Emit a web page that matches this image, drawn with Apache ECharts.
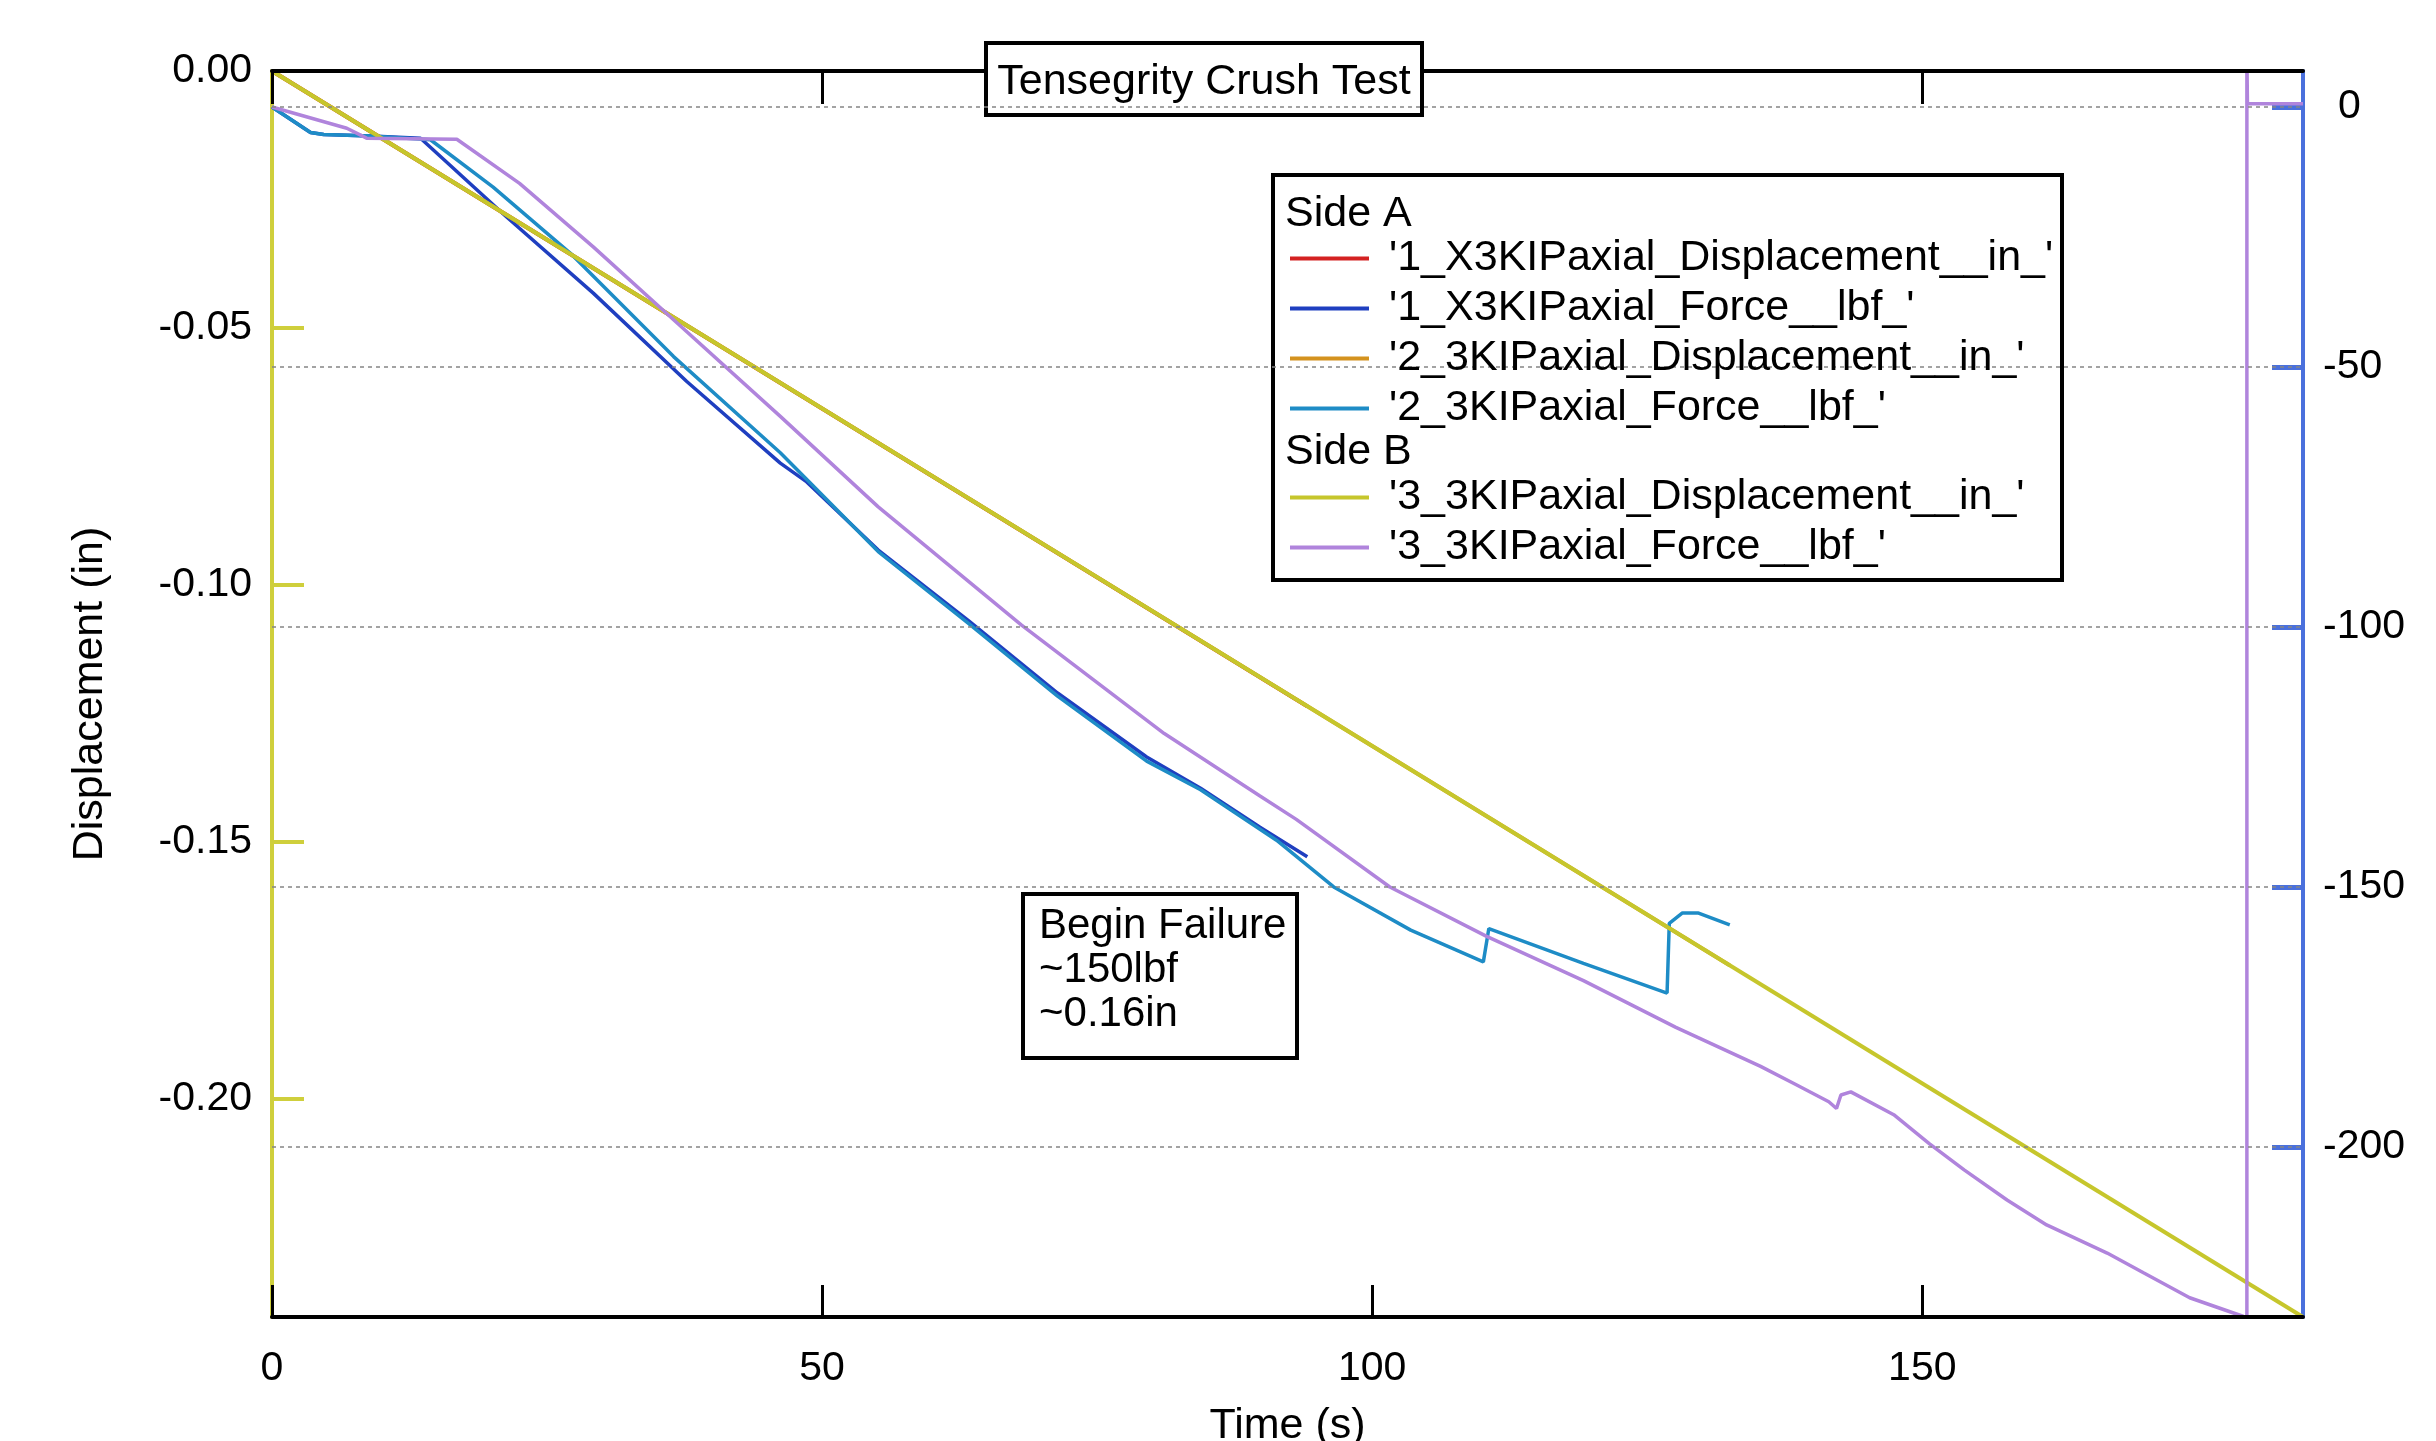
<!DOCTYPE html>
<html>
<head>
<meta charset="utf-8">
<script src="https://cdn.jsdelivr.net/npm/echarts@6/dist/echarts.min.js"></script>
<style>html,body{margin:0;padding:0;background:#fff}#c{width:2436px;height:1441px}</style>
</head>
<body>
<div id="c"></div>
<script>
// ---- data ----
const seriesNames = [
  "'1_X3KIPaxial_Displacement__in_'",
  "'1_X3KIPaxial_Force__lbf_'",
  "'2_3KIPaxial_Displacement__in_'",
  "'2_3KIPaxial_Force__lbf_'",
  "'3_3KIPaxial_Displacement__in_'",
  "'3_3KIPaxial_Force__lbf_'"
];
const timeTicks = [0, 50, 100, 150];
const dispTicks = [0, -0.05, -0.10, -0.15, -0.20];
const forceTicks = [0, -50, -100, -150, -200];

// [time s, displacement in] — side A traces lie beneath side B's trace
const disp1 = [[0, 0], [94.1, -0.1236]];
const disp2 = [[0, 0], [132.5, -0.174]];
const disp3 = [[0, 0], [184.6, -0.2424]];

// [time s, force lbf]
const force1 = [[0,0],[3.5,-4.9],[4.7,-5.3],[9,-5.6],[13.5,-6.0],[21.3,-21.1],[29.2,-35.8],[37.7,-52.8],
  [46.2,-68.5],[48.6,-72.1],[55.1,-85.2],[63.3,-98.8],[71.4,-112.7],[79.5,-125],[84.4,-131],[89.8,-138.5],[94.1,-144.2]];
const force2 = [[0,0],[3.5,-4.9],[4.7,-5.3],[9,-5.6],[14.4,-6.3],[20.1,-15.4],[27.1,-28.1],[36.5,-48],[46.2,-66.5],
  [55.1,-85.5],[63.3,-99.3],[71.4,-113.3],[79.5,-125.8],[84.4,-131.3],[91.3,-141],[96.5,-150],[103.5,-158.3],
  [110.1,-164.4],[110.6,-158],[119.2,-164.7],[126.8,-170.4],[127,-157],[128.2,-155],[129.6,-155],[132.5,-157.3]];
const force3 = [[0,0],[6.8,-4.1],[8.6,-6.0],[16.8,-6.2],[22.5,-14.7],[29.2,-26.9],[36.8,-41.5],[46.2,-59.5],
  [55.1,-76.9],[68.1,-99.6],[81.1,-120.5],[89.8,-132.5],[93.1,-137],[101.6,-150],[110.4,-159.5],[119.2,-168],
  [127.6,-177],[135.3,-184.5],[138.5,-188],[141.5,-191.3],[142.2,-192.6],[142.6,-190],[143.5,-189.4],[147.4,-193.8],
  [150.6,-199.3],[153.8,-204.4],[157.7,-210.2],[161.3,-215],[166.8,-220.4],[170.1,-224.2],[174.3,-229],
  [179.2,-232.6],[179.5,-232.7],[179.5,10],[179.55,0.6],[184.6,0.6]];

const titleText = 'Tensegrity Crush Test';
const noteLines = ['Begin Failure', '~150lbf', '~0.16in'];

// ---- styling ----
const FF = "'Liberation Sans', Arial, sans-serif";
const FS = 41;      // tick labels
const FSB = 43;     // title, legend, axis titles
const colors = ['#d42222', '#1f3fc0', '#d4921e', '#1e8cc6', '#c6c62c', '#b084dc'];
const axisYellow = '#cfcf3c';
const axisBlue = '#4a70dc';

const chart = echarts.init(document.getElementById('c'), null, {renderer: 'canvas'});

function lineSeries(i, data, yIdx, width, extra) {
  return Object.assign({
    name: seriesNames[i], type: 'line', data: data, xAxisIndex: 0, yAxisIndex: yIdx,
    showSymbol: false, symbol: 'none', smooth: false, clip: true,
    lineStyle: {color: colors[i], width: width},
    itemStyle: {color: colors[i]},
    emphasis: {disabled: true}, z: 2 + i * 0.01
  }, extra || {});
}

const legendRich = {t: {fontSize: FSB, fontFamily: FF, color: '#000', padding: [0, 0, 0, 15]}};
function legendOf(names, top) {
  return {
    data: names, orient: 'vertical', left: 1290, top: top, padding: 0, itemGap: 7,
    itemWidth: 79, itemHeight: 4, icon: 'rect', selectedMode: false, z: 10,
    formatter: n => '{t|' + n + '}', textStyle: {rich: legendRich}
  };
}

const option = {
  animation: false,
  backgroundColor: '#fff',
  grid: {left: 272, right: 133, top: 71, bottom: 124, containLabel: false, outerBoundsMode: 'none'},
  legend: [legendOf(seriesNames.slice(0, 4), 237), legendOf(seriesNames.slice(4), 476)],
  xAxis: [
    {type: 'value', position: 'bottom', min: 0, max: 184.6, z: 3,
     axisLine: {show: true, onZero: false, lineStyle: {color: '#000', width: 4}},
     axisTick: {show: true, inside: true, length: 32, customValues: timeTicks, lineStyle: {color: '#000', width: 3}},
     axisLabel: {customValues: timeTicks, fontSize: FS, fontFamily: FF, color: '#000', margin: 31},
     splitLine: {show: false},
     name: 'Time (s)', nameLocation: 'middle', nameGap: 88,
     nameTextStyle: {fontSize: FSB, fontFamily: FF, color: '#000'}},
    {type: 'value', position: 'top', min: 0, max: 184.6, z: 3,
     axisLine: {show: true, onZero: false, lineStyle: {color: '#000', width: 4}},
     axisTick: {show: true, inside: true, length: 33, customValues: timeTicks, lineStyle: {color: '#000', width: 3}},
     axisLabel: {show: false}, splitLine: {show: false}}
  ],
  yAxis: [
    {type: 'value', position: 'left', min: -0.2424, max: 0, z: 2,
     axisLine: {show: true, onZero: false, lineStyle: {color: axisYellow, width: 4}},
     axisTick: {show: true, inside: true, length: 32, customValues: dispTicks, lineStyle: {color: axisYellow, width: 4}},
     axisLabel: {customValues: dispTicks, formatter: v => Number(v).toFixed(2), fontSize: FS, fontFamily: FF, color: '#000', margin: 20},
     splitLine: {show: false},
     name: 'Displacement (in)', nameLocation: 'middle', nameGap: 160,
     nameTextStyle: {fontSize: FSB, fontFamily: FF, color: '#000'}},
    {type: 'value', position: 'right', min: -232.7, max: 6.92, z: 2,
     axisLine: {show: true, onZero: false, lineStyle: {color: axisBlue, width: 4}},
     axisTick: {show: true, inside: true, length: 31, customValues: forceTicks, lineStyle: {color: axisBlue, width: 5}},
     axisLabel: {customValues: forceTicks, fontSize: FS, fontFamily: FF, color: '#000', margin: 20, align: 'left',
       formatter: v => (Number(v) === 0 ? '{z|0}' : String(v)),
       rich: {z: {fontSize: FS, fontFamily: FF, color: '#000', padding: [0, 0, 0, 15]}}},
     splitLine: {show: false}}
  ],
  series: [
    lineSeries(0, disp1, 0, 4),
    lineSeries(1, force1, 1, 3.5),
    lineSeries(2, disp2, 0, 4),
    lineSeries(3, force2, 1, 3.5),
    lineSeries(4, disp3, 0, 4),
    lineSeries(5, force3, 1, 3.5, {
      markLine: {silent: true, symbol: ['none', 'none'], label: {show: false}, animation: false,
        lineStyle: {type: [4, 4], color: '#858585', width: 1.5},
        emphasis: {disabled: true},
        data: forceTicks.map(v => ({yAxis: v}))}
    })
  ],
  graphic: [
    // legend frame
    {type: 'rect', z: 5, shape: {x: 1273, y: 175, width: 789, height: 405},
     style: {fill: '#fff', stroke: '#000', lineWidth: 4}},
    {type: 'text', z: 11, x: 1285, y: 214,
     style: {text: 'Side A', fontSize: FSB, fontFamily: FF, fill: '#000', verticalAlign: 'middle', align: 'left'}},
    {type: 'text', z: 11, x: 1285, y: 452,
     style: {text: 'Side B', fontSize: FSB, fontFamily: FF, fill: '#000', verticalAlign: 'middle', align: 'left'}},
    // title box
    {type: 'rect', z: 5, shape: {x: 986, y: 43, width: 436, height: 72},
     style: {fill: '#fff', stroke: '#000', lineWidth: 4}},
    {type: 'text', z: 11, x: 1204, y: 82,
     style: {text: titleText, fontSize: FSB, fontFamily: FF, fill: '#000', align: 'center', verticalAlign: 'middle'}},
    // annotation box
    {type: 'rect', z: 5, shape: {x: 1023, y: 894, width: 274, height: 164},
     style: {fill: '#fff', stroke: '#000', lineWidth: 4}},
    {type: 'text', z: 11, x: 1039, y: 904,
     style: {text: noteLines.join('\n'), fontSize: 42, fontFamily: FF, fill: '#000', align: 'left', verticalAlign: 'top', lineHeight: 44}}
  ]
};
chart.setOption(option);
</script>
</body>
</html>
